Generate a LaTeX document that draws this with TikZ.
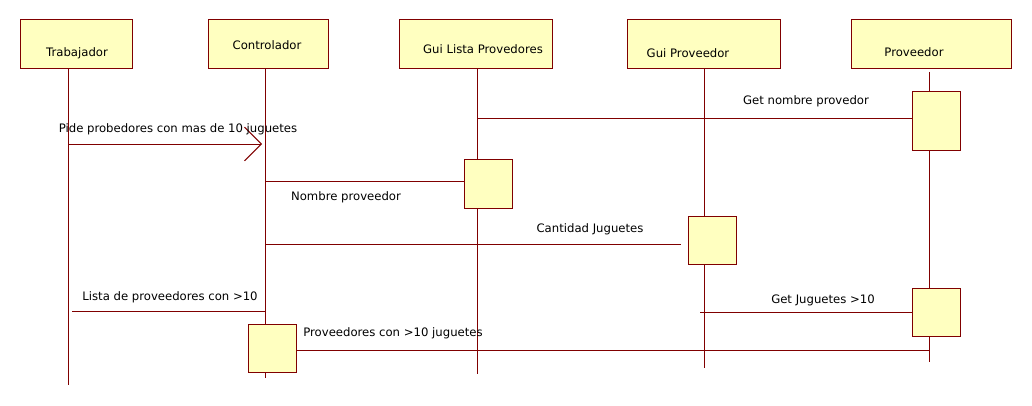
\documentclass[tikz,border=0pt]{standalone}
\usepackage{fontspec}
\setmainfont{DejaVu Sans}
\usetikzlibrary{arrows.meta}
\definecolor{rosefill}{RGB}{255,255,192}
\definecolor{roseline}{RGB}{128,0,0}
\begin{document}
\begin{tikzpicture}[x=0.025cm,y=-0.025cm,
    objeto/.style={draw=roseline,fill=rosefill,line width=0.7pt,inner sep=0pt,minimum height=1.2cm},
    activ/.style={draw=roseline,fill=rosefill,line width=0.7pt,inner sep=0pt,minimum width=1.2cm,minimum height=1.2cm},
    vida/.style={draw=roseline,line width=0.7pt},
    msj/.style={draw=roseline,line width=0.7pt},
    txt/.style={font=\fontsize{8.3}{10}\selectfont,inner sep=0pt}]
  \useasboundingbox (0,0) rectangle (1032,406);
  % objetos
  \node[objeto,minimum width=2.8cm]   (trab)  at (76.5,44)  {};
  \node[objeto,minimum width=2.975cm] (ctrl)  at (268.5,44) {};
  \node[objeto,minimum width=3.8cm]   (lista) at (476,44)   {};
  \node[objeto,minimum width=3.8cm]   (guip)  at (704,44)   {};
  \node[objeto,minimum width=3.975cm] (prov)  at (931.5,44) {};
  \node[txt] (tTrab)  at (77,53)  {Trabajador};
  \node[txt] (tCtrl)  at (267,45) {Controlador};
  \node[txt] (tLista) at (483,49) {Gui Lista Provedores};
  \node[txt] (tGuip)  at (688,53) {Gui Proveedor};
  \node[txt] (tProv)  at (914,52) {Proveedor};
  % lineas de vida
  \coordinate (trabFin)  at (68,385);
  \coordinate (ctrlFin)  at (265,378);
  \coordinate (listaFin) at (477,374);
  \coordinate (guipFin)  at (704,368);
  \coordinate (provIni)  at (929,72);
  \coordinate (provFin)  at (929,362);
  \draw[vida] (trab.south -| trabFin) -- (trabFin);
  \draw[vida] (ctrl.south -| ctrlFin) -- (ctrlFin);
  \draw[vida] (lista.south -| listaFin) -- (listaFin);
  \draw[vida] (guip.south -| guipFin) -- (guipFin);
  \draw[vida] (provIni) -- (provFin);
  % activaciones
  \node[activ] (actCtrl)  at (272,348) {};
  \node[activ] (actLista) at (488,184) {};
  \node[activ] (actGuip)  at (712,240) {};
  \node[activ,minimum height=1.45cm] (actProv1) at (936,121) {};
  \node[activ] (actProv2) at (936,312) {};
  % mensajes
  \coordinate (m1) at (477,118);
  \draw[msj] (m1) -- (actProv1.west |- m1);
  \node[txt] (lGet) at (806,101) {Get nombre provedor};
  \coordinate (m2a) at (68,144);
  \coordinate (m2b) at (262,144);
  \draw[msj,-{Straight Barb[length=12pt,width=24pt,line width=0.7pt]}] (m2a) -- (m2b);
  \node[txt] (lPide) at (178,129) {Pide probedores con mas de 10 juguetes};
  \coordinate (m3) at (265,181);
  \draw[msj] (m3) -- (actLista.west |- m3);
  \node[txt] (lNombre) at (346,197) {Nombre proveedor};
  \coordinate (m4a) at (265,244);
  \coordinate (m4b) at (681,244);
  \draw[msj] (m4a) -- (m4b);
  \node[txt] (lCant) at (590,229) {Cantidad Juguetes};
  \coordinate (m5a) at (72,311);
  \coordinate (m5b) at (265,311);
  \draw[msj] (m5a) -- (m5b);
  \node[txt] (lLista) at (170,297) {Lista de proveedores con >10};
  \coordinate (m6) at (700,312);
  \draw[msj] (m6) -- (actProv2.west |- m6);
  \node[txt] (lJug) at (823,300) {Get Juguetes >10};
  \coordinate (m7) at (929,350);
  \draw[msj] (actCtrl.east |- m7) -- (m7);
  \node[txt] (lProvs) at (393,333) {Proveedores con >10 juguetes};
\end{tikzpicture}
\end{document}
